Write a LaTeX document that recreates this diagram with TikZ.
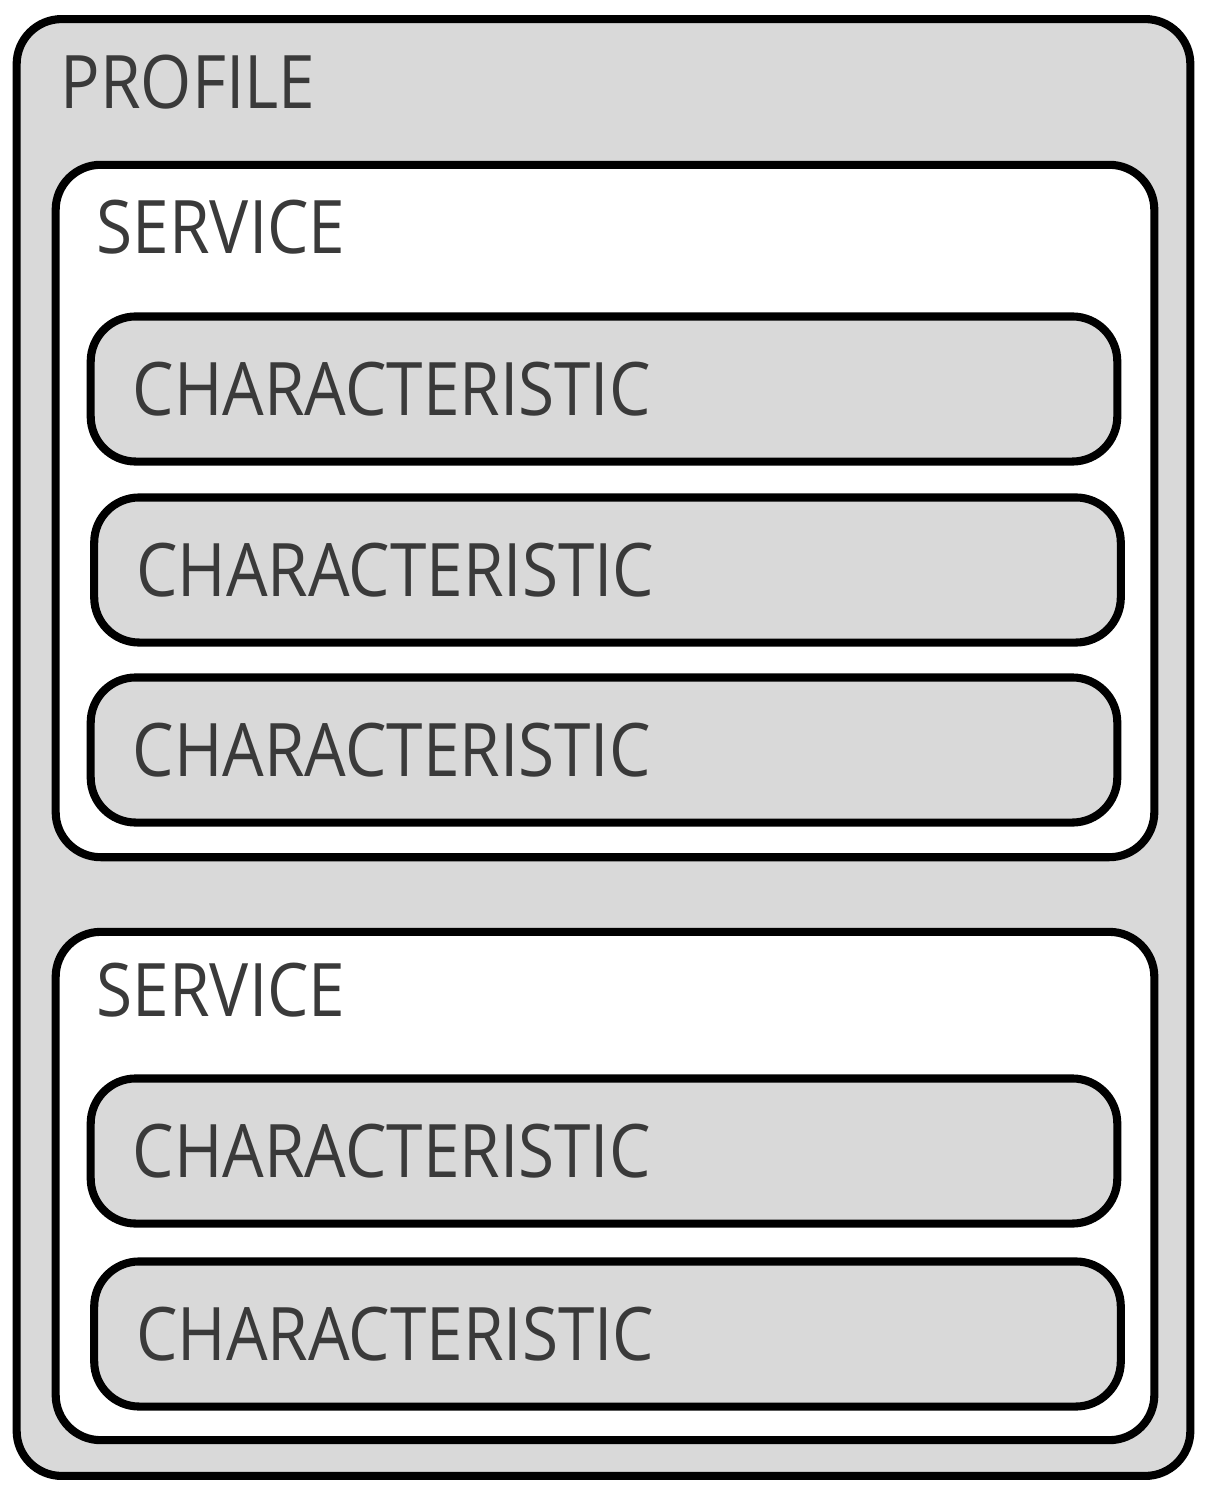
\documentclass[tikz,border=0pt]{standalone}
\usepackage{fontspec}
\setmainfont{Open Sans}[FakeStretch=0.89]
\usepackage{xcolor}
\definecolor{ColFill}{RGB}{217,217,217}
\definecolor{ColText}{RGB}{58,58,58}
\usepackage{tikz}
\tikzstyle{Box}=[draw=black,line width=2.3pt,rounded corners=0.45cm,
inner sep=0pt]
\tikzstyle{Profile}=[Box,fill=ColFill,minimum width=11.73cm,
minimum height=14.56cm]
\tikzstyle{Service}=[Box,fill=white,minimum width=10.98cm]
\tikzstyle{Charac}=[Box,fill=ColFill,text=ColText,font=\fontsize{21}{25}\selectfont,
inner xsep=0.42cm,text width=9.42cm,align=left,minimum height=1.45cm]
\tikzstyle{Title}=[anchor=base west,inner sep=0pt,text=ColText,
font=\fontsize{21}{25}\selectfont]

\begin{document}
\begin{tikzpicture}[x=0.01cm,y=-0.01cm]
        \useasboundingbox(0,0)rectangle(1206,1494);
        \node[Profile](p)at(603.5,747.5){};
        \node[Service,minimum height=6.92cm](s1)at(605,511){};
        \node[Service,minimum height=5.08cm](s2)at(605,1186){};
        \node[Title](tp)at(60,109){PROFILE};
        \node[Title](ts1)at(96,253){SERVICE};
        \node[Title](ts2)at(96,1016){SERVICE};
        \node[Charac](c1)at(604,389){CHARACTERISTIC};
        \node[Charac](c2)at(607.5,570){CHARACTERISTIC};
        \node[Charac](c3)at(604,750){CHARACTERISTIC};
        \node[Charac](c4)at(604,1151){CHARACTERISTIC};
        \node[Charac](c5)at(607.5,1334){CHARACTERISTIC};
    \end{tikzpicture}
\end{document}
